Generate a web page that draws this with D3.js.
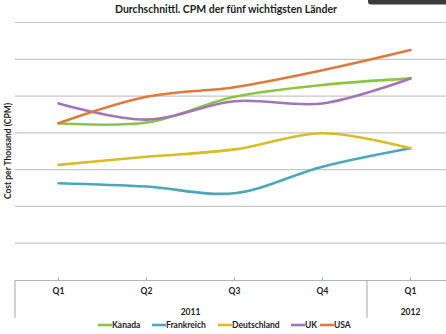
<!DOCTYPE html>
<html>
<head>
<meta charset="utf-8">
<script src="https://cdn.jsdelivr.net/npm/d3@7/dist/d3.min.js"></script>
<style>
  html, body { margin: 0; padding: 0; background: #fff; }
  svg { display: block; }
  text { font-family: Lato, "Open Sans", sans-serif; fill: #222; }
</style>
</head>
<body>
<svg id="chart" width="446" height="334"></svg>
<script>
// Quarters on the x axis and the year they belong to
const quarters = ["Q1", "Q2", "Q3", "Q4", "Q1 "];
const years = [
  { label: "2011", from: 0, to: 3 },
  { label: "2012", from: 4, to: 4 }
];
const countries = ["Kanada", "Frankreich", "Deutschland", "UK", "USA"];
const colors = ["#8cc63e", "#4aa8b8", "#d8bc28", "#a274b8", "#e07a3c"];

// Average CPM per quarter
const kanada      = [4.26, 4.28, 4.98, 5.30, 5.48];
const frankreich  = [2.63, 2.54, 2.36, 3.08, 3.58];
const deutschland = [3.13, 3.35, 3.55, 3.99, 3.58];
const uk          = [4.80, 4.36, 4.86, 4.80, 5.48];
const usa         = [4.26, 4.98, 5.24, 5.70, 6.25];
const series = [kanada, frankreich, deutschland, uk, usa];

const yTicks = [1, 2, 3, 4, 5, 6, 7];

const svg = d3.select("#chart");

const x = d3.scaleBand().domain(quarters).range([14.5, 454.5]);
const y = d3.scaleLinear().domain([0, 7]).range([280, 22.5]);
const cx = q => x(q) + x.bandwidth() / 2;

// window chrome strip at the top right
svg.append("rect")
  .attr("x", 368).attr("y", -6).attr("width", 90).attr("height", 10.5)
  .attr("rx", 3).attr("fill", "#3b3b3b");

// horizontal gridlines
svg.append("g")
  .selectAll("line")
  .data(yTicks)
  .join("line")
  .attr("x1", 15).attr("x2", 446)
  .attr("y1", d => y(d)).attr("y2", d => y(d))
  .attr("stroke", "#c6c6c6").attr("stroke-width", 1.2);

// x axis with small inward ticks
const xAxis = svg.append("g")
  .attr("transform", `translate(0,${y(0)})`)
  .call(d3.axisBottom(x).tickSize(-3).tickPadding(8).tickSizeOuter(0));
xAxis.select(".domain").attr("stroke", "#b4b4b4").attr("stroke-width", 1.2);
xAxis.selectAll(".tick line").attr("stroke", "#b4b4b4");
xAxis.selectAll(".tick text")
  .attr("font-family", "Lato, 'Open Sans', sans-serif")
  .attr("font-size", 8.5).attr("font-weight", "bold").attr("fill", "#222")
  .text(d => d.trim());

// year grouping brackets
const groupEdges = [0, 4].map(i => x(quarters[i]));
svg.append("g")
  .selectAll("line")
  .data(groupEdges)
  .join("line")
  .attr("x1", d => d + 0.5).attr("x2", d => d + 0.5)
  .attr("y1", y(0)).attr("y2", (d, i) => i === 0 ? 318 : 318)
  .attr("stroke", "#b4b4b4").attr("stroke-width", 1.2);

svg.append("g")
  .selectAll("text")
  .data(years)
  .join("text")
  .attr("x", d => (x(quarters[d.from]) + x(quarters[d.to]) + x.bandwidth()) / 2)
  .attr("y", 315)
  .attr("text-anchor", "middle")
  .attr("font-size", 8.5).attr("font-weight", "bold")
  .text(d => d.label);

// smoothed lines
const line = d3.line()
  .x((d, i) => cx(quarters[i]))
  .y(d => y(d))
  .curve(d3.curveCatmullRom.alpha(0.5));

svg.append("g")
  .selectAll("path")
  .data(series)
  .join("path")
  .attr("d", d => line(d))
  .attr("fill", "none")
  .attr("stroke", (d, i) => colors[i])
  .attr("stroke-width", 2.6)
  .attr("stroke-linecap", "round");

// title
svg.append("text")
  .attr("x", 226).attr("y", 13)
  .attr("text-anchor", "middle")
  .attr("font-size", 10.5).attr("font-weight", "bold")
  .text("Durchschnittl. CPM der fünf wichtigsten Länder");

// y axis title
svg.append("text")
  .attr("transform", "translate(11,151) rotate(-90)")
  .attr("text-anchor", "middle")
  .attr("font-size", 8.5).attr("font-weight", "bold")
  .text("Cost per Thousand (CPM)");

// legend
const legendX = [98, 152, 218, 291, 320];
const legend = svg.append("g")
  .selectAll("g")
  .data(countries)
  .join("g")
  .attr("transform", (d, i) => `translate(${legendX[i]},328)`);
legend.append("line")
  .attr("x1", 0).attr("x2", 14).attr("y1", -3).attr("y2", -3)
  .attr("stroke", (d, i) => colors[i]).attr("stroke-width", 2.6);
legend.append("text")
  .attr("x", 14).attr("y", 0)
  .attr("font-size", 8.5).attr("font-weight", "bold")
  .text(d => d);
</script>
</body>
</html>
